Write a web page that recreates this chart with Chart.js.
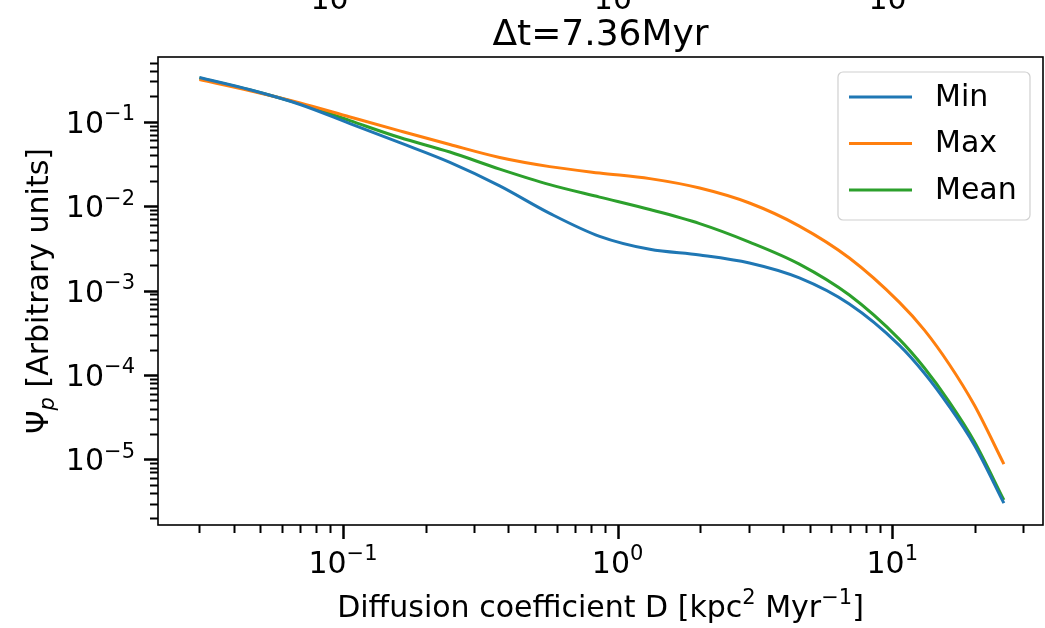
<!DOCTYPE html>
<html>
<head>
<meta charset="utf-8">
<script src="https://cdn.jsdelivr.net/npm/chart.js@4.4.1/dist/chart.umd.min.js"></script>
<style>
	html, body { margin: 0; padding: 0; background: #fff; }
	#wrap { width: 1045px; height: 628px; }
</style>
</head>
<body>
<div id="wrap"><canvas id="myChart" width="1045" height="628"></canvas></div>
<script>
// values
const diffusion = [0.03, 0.0459, 0.0698, 0.106, 0.161, 0.245, 0.372, 0.566, 0.86, 1.31, 1.99, 3.02, 4.59, 6.98, 10.6, 13.1, 16.1, 19.9, 25.5];
const psiMin  = [0.334, 0.239, 0.16, 0.0952, 0.0565, 0.033, 0.0174, 0.00822, 0.00439, 0.00308, 0.00264, 0.00212, 0.00141, 6.92e-4, 2.26e-4, 1.05e-4, 4.28e-5, 1.48e-5, 3.03e-6];
const psiMax  = [0.316, 0.233, 0.167, 0.114, 0.078, 0.0537, 0.0377, 0.0294, 0.0247, 0.0212, 0.0164, 0.0109, 0.00581, 0.00243, 7.3e-4, 3.4e-4, 1.35e-4, 4.4e-5, 8.8e-6];
const psiMean = [0.33, 0.238, 0.163, 0.103, 0.065, 0.0438, 0.0275, 0.018, 0.0128, 0.00912, 0.00622, 0.00376, 0.00206, 8.85e-4, 2.66e-4, 1.21e-4, 4.84e-5, 1.63e-5, 3.3e-6];

const seriesNames = ['Min', 'Max', 'Mean'];
const seriesColors = ['#1f77b4', '#ff7f0e', '#2ca02c'];

const xMajor = [-1, 0, 1];          // exponents labelled on x
const yMajor = [-1, -2, -3, -4, -5]; // exponents labelled on y
const xLimits = [0.0212, 35.4];
const yLimits = [1.67e-6, 0.585];

const titleText = 'Δt=7.36Myr';
const FONT = '"DejaVu Sans", sans-serif';
const BASE = 30;

function supText(n) {
	return String(n).replace('-', '\u2212');
}

// draws 10^n the way mathtext does
function drawPower(ctx, exp, x, baseY, align, size) {
	ctx.font = size + 'px ' + FONT;
	const wBase = ctx.measureText('10').width;
	const supSize = Math.round(size * 0.7);
	ctx.font = supSize + 'px ' + FONT;
	const wSup = ctx.measureText(supText(exp)).width;
	const total = wBase + wSup;
	let start = x;
	if (align === 'center') start = x - total / 2;
	if (align === 'right') start = x - total;
	ctx.textAlign = 'left';
	ctx.textBaseline = 'alphabetic';
	ctx.font = size + 'px ' + FONT;
	ctx.fillText('10', start, baseY);
	ctx.font = supSize + 'px ' + FONT;
	ctx.fillText(supText(exp), start + wBase, baseY - size * 0.42);
}

function logTicks(min, max) {
	let out = [];
	for (let e = Math.floor(Math.log10(min)); e <= Math.ceil(Math.log10(max)); e++) {
		for (let m = 1; m < 10; m++) {
			const v = m * Math.pow(10, e);
			if (v >= min && v <= max) out.push({ v: v, major: m === 1 });
		}
	}
	return out;
}

const drawExtras = {
	id: 'drawExtras',
	afterDraw(chart) {
		const ctx = chart.ctx;
		const area = chart.chartArea;
		const x = chart.scales.x;
		const y = chart.scales.y;
		ctx.save();
		ctx.fillStyle = '#000';
		ctx.strokeStyle = '#000';

		// ticks
		logTicks(xLimits[0], xLimits[1]).forEach(t => {
			const px = Math.round(x.getPixelForValue(t.v)) + 0.5;
			ctx.lineWidth = t.major ? 2.5 : 2;
			ctx.beginPath();
			ctx.moveTo(px, area.bottom);
			ctx.lineTo(px, area.bottom + (t.major ? 14 : 8));
			ctx.stroke();
		});
		logTicks(yLimits[0], yLimits[1]).forEach(t => {
			const py = Math.round(y.getPixelForValue(t.v)) + 0.5;
			ctx.lineWidth = t.major ? 2.5 : 2;
			ctx.beginPath();
			ctx.moveTo(area.left, py);
			ctx.lineTo(area.left - (t.major ? 14 : 8), py);
			ctx.stroke();
		});

		// frame
		ctx.lineWidth = 1.6;
		ctx.strokeRect(area.left, area.top, area.right - area.left, area.bottom - area.top);

		// tick labels
		xMajor.forEach(e => {
			const px = x.getPixelForValue(Math.pow(10, e));
			drawPower(ctx, e, px, 573, 'center', BASE);
			// labels of the panel above, cut by the top edge
			drawPower(ctx, e, px + 2, 9, 'center', BASE);
		});
		yMajor.forEach(e => {
			const py = y.getPixelForValue(Math.pow(10, e));
			drawPower(ctx, e, 135, py + 11, 'right', BASE);
		});

		// title
		ctx.font = Math.round(BASE * 1.2) + 'px ' + FONT;
		ctx.textAlign = 'center';
		ctx.fillText(titleText, (area.left + area.right) / 2, 45);

		// x axis title
		const lab = BASE, sup = Math.round(lab * 0.7);
		const parts = [
			['Diffusion coefficient D [kpc', lab, 0],
			['2', sup, -lab * 0.42],
			[' Myr', lab, 0],
			['\u22121', sup, -lab * 0.42],
			[']', lab, 0]
		];
		let w = 0;
		parts.forEach(p => { ctx.font = p[1] + 'px ' + FONT; w += ctx.measureText(p[0]).width; });
		let cx = (area.left + area.right) / 2 - w / 2;
		ctx.textAlign = 'left';
		parts.forEach(p => {
			ctx.font = p[1] + 'px ' + FONT;
			ctx.fillText(p[0], cx, 617 + p[2]);
			cx += ctx.measureText(p[0]).width;
		});

		// y axis title, rotated
		ctx.save();
		ctx.translate(48, (area.top + area.bottom) / 2);
		ctx.rotate(-Math.PI / 2);
		const yparts = [
			['Ψ', lab + 'px ' + FONT, 0],
			['p', 'italic ' + sup + 'px ' + FONT, lab * 0.2],
			[' [Arbitrary units]', lab + 'px ' + FONT, 0]
		];
		w = 0;
		yparts.forEach(p => { ctx.font = p[1]; w += ctx.measureText(p[0]).width; });
		cx = -w / 2;
		yparts.forEach(p => {
			ctx.font = p[1];
			ctx.fillText(p[0], cx, p[2]);
			cx += ctx.measureText(p[0]).width;
		});
		ctx.restore();

		// legend
		const box = { l: 838, t: 72, r: 1030, b: 220 };
		ctx.fillStyle = 'rgba(255,255,255,0.8)';
		ctx.strokeStyle = '#d0d0d0';
		ctx.lineWidth = 1.2;
		ctx.beginPath();
		ctx.roundRect(box.l, box.t, box.r - box.l, box.b - box.t, 5);
		ctx.fill();
		ctx.stroke();
		chart.data.datasets.forEach((ds, i) => {
			const ly = 97 + i * 46.5;
			ctx.strokeStyle = ds.borderColor;
			ctx.lineWidth = 3;
			ctx.beginPath();
			ctx.moveTo(849, ly);
			ctx.lineTo(912, ly);
			ctx.stroke();
			ctx.fillStyle = '#000';
			ctx.font = BASE + 'px ' + FONT;
			ctx.textAlign = 'left';
			ctx.textBaseline = 'middle';
			ctx.fillText(ds.label, 935, ly + 1);
		});
		ctx.restore();
	}
};

function makeSeries(values, i) {
	return {
		label: seriesNames[i],
		data: diffusion.map((d, k) => ({ x: d, y: values[k] })),
		borderColor: seriesColors[i],
		borderWidth: 3,
		pointRadius: 0,
		fill: false,
		cubicInterpolationMode: 'monotone'
	};
}

const ctx = document.getElementById('myChart').getContext('2d');
const myChart = new Chart(ctx, {
	type: 'line',
	data: {
		datasets: [makeSeries(psiMin, 0), makeSeries(psiMax, 1), makeSeries(psiMean, 2)]
	},
	options: {
		responsive: false,
		animation: false,
		devicePixelRatio: 1,
		layout: { padding: { top: 57, right: 2, left: 0, bottom: 0 } },
		plugins: {
			legend: { display: false },
			title: { display: false },
			tooltip: { enabled: false }
		},
		scales: {
			x: {
				type: 'logarithmic',
				min: xLimits[0],
				max: xLimits[1],
				grid: { display: false },
				border: { display: false },
				ticks: { display: false },
				afterFit: s => { s.height = 103; }
			},
			y: {
				type: 'logarithmic',
				min: yLimits[0],
				max: yLimits[1],
				grid: { display: false },
				border: { display: false },
				ticks: { display: false },
				afterFit: s => { s.width = 158; }
			}
		}
	},
	plugins: [drawExtras]
});
</script>
</body>
</html>
